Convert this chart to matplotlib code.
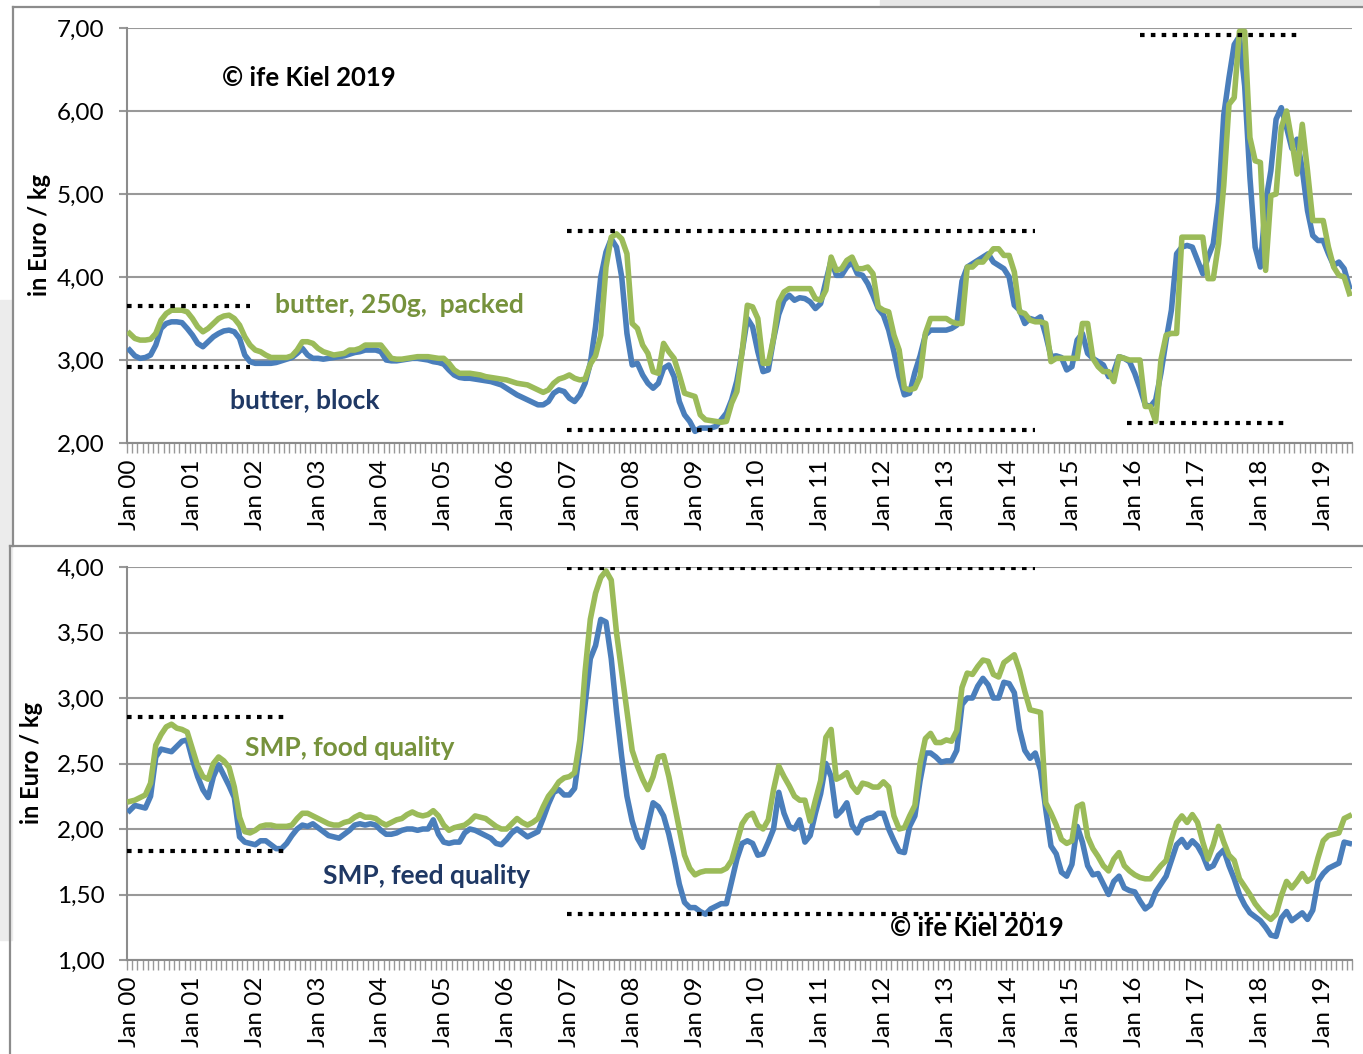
import numpy as np
import matplotlib
matplotlib.use("Agg")
import matplotlib.pyplot as plt
from matplotlib.ticker import FixedLocator, FuncFormatter
from matplotlib.patches import Rectangle
from matplotlib.lines import Line2D

plt.rcParams['font.family'] = ['Lato', 'DejaVu Sans']

# monthly prices, Jan 2000 .. Jun 2019 (Euro/kg)
butter_block = [
    3.12, 3.05, 3.02, 3.03, 3.06, 3.18, 3.38, 3.44, 3.46, 3.46, 3.45, 3.38,
    3.30, 3.20, 3.16, 3.22, 3.28, 3.32, 3.35, 3.36, 3.34, 3.26, 3.06, 2.98,
    2.96, 2.96, 2.96, 2.96, 2.97, 2.99, 3.01, 3.03, 3.08, 3.14, 3.06, 3.02,
    3.02, 3.01, 3.02, 3.03, 3.04, 3.05, 3.07, 3.09, 3.10, 3.12, 3.12, 3.12,
    3.10, 3.00, 2.99, 2.99, 3.00, 3.01, 3.02, 3.02, 3.01, 3.00, 2.98, 2.97,
    2.95, 2.88, 2.82, 2.79, 2.78, 2.78, 2.77, 2.76, 2.75, 2.74, 2.72, 2.70,
    2.66, 2.62, 2.58, 2.55, 2.52, 2.49, 2.46, 2.46, 2.50, 2.60, 2.64, 2.62,
    2.54, 2.50, 2.58, 2.72, 2.96, 3.40, 4.00, 4.30, 4.46, 4.36, 4.00, 3.32,
    2.94, 2.96, 2.82, 2.72, 2.66, 2.72, 2.90, 2.94, 2.80, 2.50, 2.34, 2.26,
    2.14, 2.18, 2.18, 2.18, 2.20, 2.28, 2.36, 2.52, 2.75, 3.10, 3.50, 3.40,
    3.10, 2.86, 2.88, 3.25, 3.55, 3.72, 3.78, 3.72, 3.75, 3.74, 3.70, 3.62,
    3.68, 3.95, 4.20, 4.02, 4.02, 4.12, 4.18, 4.04, 4.02, 3.92, 3.78, 3.62,
    3.54, 3.36, 3.10, 2.80, 2.58, 2.60, 2.85, 3.05, 3.30, 3.36, 3.36, 3.36,
    3.36, 3.38, 3.42, 3.95, 4.12, 4.16, 4.20, 4.24, 4.28, 4.18, 4.14, 4.10,
    4.00, 3.66, 3.60, 3.44, 3.50, 3.48, 3.52, 3.30, 3.04, 3.05, 3.03, 2.88,
    2.92, 3.24, 3.32, 3.08, 3.02, 2.98, 2.94, 2.80, 2.86, 3.04, 3.02, 2.98,
    2.84, 2.66, 2.46, 2.44, 2.52, 2.84, 3.24, 3.60, 4.28, 4.36, 4.38, 4.36,
    4.20, 4.04, 4.24, 4.40, 4.90, 5.95, 6.40, 6.80, 6.90, 6.30, 5.20, 4.36,
    4.12, 4.90, 5.28, 5.90, 6.04, 5.80, 5.55, 5.66, 5.30, 4.80, 4.50, 4.44,
    4.44, 4.28, 4.14, 4.18, 4.10, 3.88,
]
butter_packed = [
    3.32, 3.26, 3.24, 3.24, 3.25, 3.32, 3.48, 3.56, 3.60, 3.60, 3.60, 3.58,
    3.50, 3.40, 3.34, 3.38, 3.44, 3.50, 3.53, 3.54, 3.50, 3.42, 3.28, 3.18,
    3.12, 3.10, 3.06, 3.03, 3.03, 3.03, 3.03, 3.05, 3.12, 3.22, 3.22, 3.20,
    3.14, 3.10, 3.08, 3.06, 3.07, 3.08, 3.12, 3.12, 3.14, 3.18, 3.18, 3.18,
    3.18, 3.10, 3.02, 3.01, 3.01, 3.02, 3.03, 3.04, 3.04, 3.04, 3.03, 3.02,
    3.02, 2.96, 2.88, 2.84, 2.84, 2.84, 2.83, 2.82, 2.80, 2.79, 2.78, 2.77,
    2.76, 2.74, 2.72, 2.71, 2.70, 2.67, 2.64, 2.61, 2.64, 2.72, 2.77, 2.79,
    2.82, 2.78, 2.76, 2.77, 2.95, 3.05, 3.30, 4.12, 4.48, 4.52, 4.46, 4.28,
    3.44, 3.38, 3.18, 3.08, 2.86, 2.84, 3.20, 3.10, 3.02, 2.82, 2.60, 2.58,
    2.56, 2.34, 2.28, 2.27, 2.26, 2.25, 2.26, 2.48, 2.62, 3.10, 3.66, 3.64,
    3.50, 2.96, 2.96, 3.26, 3.70, 3.82, 3.86, 3.86, 3.86, 3.86, 3.86, 3.74,
    3.72, 3.84, 4.24, 4.08, 4.10, 4.20, 4.24, 4.10, 4.10, 4.12, 4.04, 3.64,
    3.60, 3.58, 3.30, 3.12, 2.66, 2.64, 2.66, 2.80, 3.32, 3.50, 3.50, 3.50,
    3.50, 3.46, 3.44, 3.44, 4.12, 4.12, 4.18, 4.18, 4.26, 4.34, 4.34, 4.26,
    4.26, 4.06, 3.58, 3.56, 3.48, 3.46, 3.46, 3.44, 2.98, 3.02, 3.02, 3.02,
    3.02, 3.02, 3.44, 3.44, 3.02, 2.92, 2.86, 2.86, 2.74, 3.04, 3.02, 3.00,
    3.00, 3.00, 2.44, 2.44, 2.26, 3.00, 3.30, 3.32, 3.32, 4.48, 4.48, 4.48,
    4.48, 4.48, 3.98, 3.98, 4.40, 5.10, 6.08, 6.16, 6.96, 6.96, 5.68, 5.40,
    5.38, 4.08, 4.98, 5.00, 5.80, 6.00, 5.64, 5.24, 5.84, 5.28, 4.68, 4.68,
    4.68, 4.36, 4.12, 4.02, 4.00, 3.80,
]
smp_feed = [
    2.14, 2.18, 2.17, 2.16, 2.25, 2.55, 2.61, 2.60, 2.59, 2.63, 2.67, 2.68,
    2.53, 2.40, 2.30, 2.24, 2.40, 2.49, 2.41, 2.33, 2.24, 1.94, 1.90, 1.89,
    1.88, 1.91, 1.91, 1.88, 1.85, 1.85, 1.89, 1.95, 2.00, 2.03, 2.02, 2.04,
    2.01, 1.98, 1.95, 1.94, 1.93, 1.96, 1.99, 2.03, 2.04, 2.03, 2.04, 2.03,
    1.99, 1.96, 1.96, 1.97, 1.99, 2.00, 2.00, 1.99, 2.00, 2.00, 2.07, 1.96,
    1.90, 1.89, 1.90, 1.90, 1.97, 2.00, 1.99, 1.97, 1.95, 1.93, 1.89, 1.88,
    1.92, 1.97, 2.00, 1.97, 1.94, 1.96, 1.98, 2.08, 2.19, 2.28, 2.30, 2.26,
    2.26, 2.31, 2.60, 2.95, 3.30, 3.40, 3.60, 3.58, 3.30, 2.90, 2.55, 2.25,
    2.06, 1.93, 1.86, 2.03, 2.20, 2.17, 2.10, 1.96, 1.78, 1.58, 1.44, 1.40,
    1.40, 1.37, 1.35, 1.39, 1.41, 1.43, 1.43, 1.60, 1.77, 1.89, 1.91, 1.89,
    1.80, 1.81, 1.90, 2.00, 2.28, 2.12, 2.02, 2.00, 2.07, 1.90, 1.95, 2.12,
    2.27, 2.50, 2.40, 2.10, 2.14, 2.20, 2.03, 1.97, 2.06, 2.08, 2.09, 2.12,
    2.12, 2.00, 1.91, 1.83, 1.82, 2.02, 2.10, 2.37, 2.58, 2.58, 2.55, 2.51,
    2.52, 2.52, 2.60, 2.95, 3.00, 3.00, 3.09, 3.15, 3.10, 3.00, 3.00, 3.12,
    3.11, 3.04, 2.76, 2.60, 2.54, 2.58, 2.45, 2.15, 1.87, 1.81, 1.67, 1.64,
    1.73, 2.02, 1.90, 1.72, 1.65, 1.66, 1.58, 1.50, 1.60, 1.64, 1.55, 1.53,
    1.52, 1.45, 1.39, 1.42, 1.52, 1.58, 1.64, 1.76, 1.88, 1.92, 1.86, 1.91,
    1.87, 1.80, 1.70, 1.72, 1.80, 1.84, 1.72, 1.62, 1.50, 1.42, 1.36, 1.33,
    1.30, 1.25, 1.19, 1.18, 1.32, 1.37, 1.30, 1.33, 1.36, 1.31, 1.38, 1.60,
    1.66, 1.70, 1.72, 1.74, 1.90, 1.89,
]
smp_food = [
    2.21, 2.22, 2.24, 2.26, 2.35, 2.64, 2.72, 2.78, 2.80, 2.77, 2.76, 2.74,
    2.61, 2.48, 2.40, 2.38, 2.50, 2.55, 2.52, 2.47, 2.32, 2.09, 1.98, 1.97,
    1.99, 2.02, 2.03, 2.03, 2.02, 2.02, 2.02, 2.03, 2.08, 2.12, 2.12, 2.10,
    2.08, 2.06, 2.04, 2.03, 2.03, 2.05, 2.06, 2.09, 2.11, 2.09, 2.09, 2.08,
    2.05, 2.03, 2.05, 2.07, 2.08, 2.11, 2.13, 2.11, 2.10, 2.11, 2.14, 2.10,
    2.03, 1.99, 2.01, 2.02, 2.03, 2.06, 2.10, 2.09, 2.08, 2.05, 2.02, 2.00,
    2.00, 2.04, 2.08, 2.05, 2.03, 2.05, 2.08, 2.17, 2.25, 2.30, 2.36, 2.39,
    2.40, 2.43, 2.68, 3.20, 3.60, 3.80, 3.92, 3.97, 3.90, 3.50, 3.20, 2.90,
    2.60, 2.48, 2.38, 2.30, 2.40, 2.55, 2.56, 2.40, 2.20, 2.00, 1.80, 1.70,
    1.65, 1.67, 1.68, 1.68, 1.68, 1.68, 1.70, 1.76, 1.90, 2.04, 2.10, 2.12,
    2.03, 2.00, 2.07, 2.30, 2.48, 2.40, 2.33, 2.25, 2.22, 2.22, 2.06, 2.22,
    2.37, 2.70, 2.76, 2.38, 2.40, 2.43, 2.33, 2.28, 2.35, 2.34, 2.32, 2.32,
    2.36, 2.32, 2.10, 2.00, 2.01, 2.10, 2.18, 2.50, 2.69, 2.73, 2.66, 2.66,
    2.68, 2.67, 2.75, 3.08, 3.19, 3.18, 3.24, 3.29, 3.28, 3.18, 3.16, 3.27,
    3.30, 3.33, 3.21, 3.05, 2.91, 2.90, 2.89, 2.20, 2.12, 2.03, 1.92, 1.89,
    1.91, 2.17, 2.19, 1.94, 1.85, 1.79, 1.72, 1.68, 1.77, 1.82, 1.72, 1.68,
    1.65, 1.63, 1.62, 1.62, 1.67, 1.72, 1.76, 1.92, 2.05, 2.10, 2.05, 2.11,
    2.05, 1.90, 1.77, 1.88, 2.02, 1.90, 1.80, 1.76, 1.62, 1.56, 1.50, 1.43,
    1.38, 1.34, 1.31, 1.35, 1.49, 1.60, 1.55, 1.60, 1.66, 1.60, 1.63, 1.78,
    1.91, 1.95, 1.96, 1.97, 2.08, 2.10,
]
year_labels = ["Jan %02d" % y for y in range(0, 20)]

# price-range markers (level, first month, last month)
butter_ranges = [(3.65, -0.5, 23), (2.92, -0.5, 23),
                 (4.55, 83.5, 173), (2.16, 83.5, 173),
                 (6.92, 193, 224), (2.24, 190.5, 221)]
smp_ranges = [(2.855, -0.5, 30.5), (1.83, -0.5, 30.5),
              (3.99, 83.5, 173), (1.35, 83.5, 173)]

BLUE = "#4A7EBB"
GREEN = "#9BBB59"
GREEN_TXT = "#76923C"
NAVY_TXT = "#1F3864"
GRID = "#999999"

W, H = 1363, 1054
fig = plt.figure(figsize=(W / 100, H / 100), dpi=100)


def fx(px):
    return px / W


def fy(py):
    return 1 - py / H


# background strips and panel frames
fig.patches.append(Rectangle((fx(0), fy(940)), fx(12), fy(300) - fy(940),
                             transform=fig.transFigure, color="#ececec", zorder=0))
fig.patches.append(Rectangle((fx(880), fy(6)), fx(W - 880), fy(0) - fy(6),
                             transform=fig.transFigure, color="#e6e6e6", zorder=0))
for xs, ys in [((13, 13), (7, 546)), ((13, W), (7, 7)),
               ((10, 10), (546, H)), ((10, W), (546, 546))]:
    fig.lines.append(Line2D([fx(v) for v in xs], [fy(v) for v in ys],
                            transform=fig.transFigure, color="#8c8c8c", lw=1.6))

months = np.arange(len(butter_block))


def setup(ax, ylim, step, ylabel, ylabel_x):
    ax.set_xlim(-0.5, len(months) - 0.5)
    ax.set_ylim(*ylim)
    ax.set_yticks(np.arange(ylim[0], ylim[1] + 0.001, step))
    ax.yaxis.set_major_formatter(FuncFormatter(lambda v, p: ("%.2f" % v).replace(".", ",")))
    ax.grid(axis="y", color=GRID, lw=1.5)
    ax.set_axisbelow(True)
    for s in ["top", "right"]:
        ax.spines[s].set_visible(False)
    for s in ["left", "bottom"]:
        ax.spines[s].set_color("#8c8c8c")
        ax.spines[s].set_linewidth(1.5)
    ax.xaxis.set_major_locator(FixedLocator(np.arange(0, len(months), 12)))
    ax.set_xticklabels(year_labels, rotation=90, fontsize=17.5)
    ax.xaxis.set_minor_locator(FixedLocator(np.arange(-0.5, len(months), 1)))
    ax.tick_params(axis="x", which="major", length=0, pad=12)
    ax.tick_params(axis="x", which="minor", length=7, width=1, color=GRID, direction="out")
    ax.tick_params(axis="y", length=6, width=1.5, color=GRID, labelsize=17.5, pad=10)
    ax.set_ylabel(ylabel, fontsize=17, fontweight="bold")
    ax.yaxis.set_label_coords(ylabel_x, 0.5)


def ranges(ax, rng):
    for level, a, b in rng:
        ax.plot([a, b], [level, level], color="black", lw=3,
                linestyle=(0, (1.1, 1.5)), dash_capstyle="butt", zorder=4)


ax1 = fig.add_axes([fx(127), fy(443), fx(1352 - 127), fy(28) - fy(443)])
setup(ax1, (2, 7), 1, "in Euro / kg", -0.062)
ax1.plot(months, butter_block, color=BLUE, lw=4, zorder=3, solid_joinstyle="round")
ax1.plot(months, butter_packed, color=GREEN, lw=4, zorder=3.5, solid_joinstyle="round")
ranges(ax1, butter_ranges)
ax1.text(0.0776, 0.88, "© ife Kiel 2019", transform=ax1.transAxes, fontsize=18.5,
         fontweight="bold", va="center", ha="left", color="black")
ax1.text(0.1208, 0.333, "butter, 250g,  packed", transform=ax1.transAxes, fontsize=19,
         fontweight="bold", va="center", ha="left", color=GREEN_TXT)
ax1.text(0.0841, 0.104, "butter, block", transform=ax1.transAxes, fontsize=19,
         fontweight="bold", va="center", ha="left", color=NAVY_TXT)

ax2 = fig.add_axes([fx(127), fy(960), fx(1352 - 127), fy(567) - fy(960)])
setup(ax2, (1, 4), 0.5, "in Euro / kg", -0.0686)
ax2.plot(months, smp_feed, color=BLUE, lw=4, zorder=3, solid_joinstyle="round")
ax2.plot(months, smp_food, color=GREEN, lw=4, zorder=3.5, solid_joinstyle="round")
ranges(ax2, smp_ranges)
ax2.text(0.0963, 0.539, "SMP, food quality", transform=ax2.transAxes, fontsize=19,
         fontweight="bold", va="center", ha="left", color=GREEN_TXT)
ax2.text(0.160, 0.214, "SMP, feed quality", transform=ax2.transAxes, fontsize=19,
         fontweight="bold", va="center", ha="left", color=NAVY_TXT)
ax2.text(0.623, 0.081, "© ife Kiel 2019", transform=ax2.transAxes, fontsize=18.5,
         fontweight="bold", va="center", ha="left", color="black")

fig.savefig("out.png", dpi=100)
